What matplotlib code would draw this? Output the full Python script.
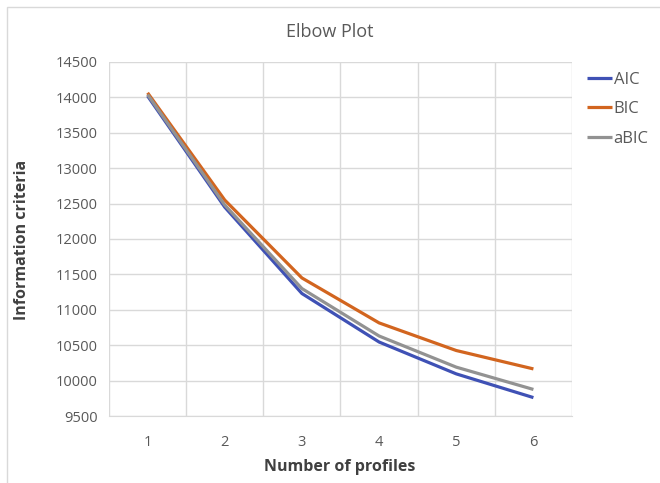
import matplotlib.pyplot as plt
from matplotlib.patches import Rectangle

profiles = [1, 2, 3, 4, 5, 6]
aic = [14020, 12450, 11230, 10545, 10095, 9760]
bic = [14065, 12550, 11450, 10815, 10425, 10165]
abic = [14040, 12480, 11300, 10630, 10190, 9875]
yticks = [9500, 10000, 10500, 11000, 11500, 12000, 12500, 13000, 13500, 14000, 14500]

plt.rcParams['font.family'] = ['Open Sans', 'DejaVu Sans']
txt = '#595959'
grid = '#d9d9d9'

fig = plt.figure(figsize=(6.6, 4.83), dpi=100)
fig.patches.append(Rectangle((7 / 660, -0.1), 1.2, 1 - 7 / 483 + 0.1, transform=fig.transFigure,
                             fill=False, edgecolor=grid, lw=1))
ax = fig.add_axes([109 / 660, 1 - 416 / 483, 463 / 660, 354 / 483])

x = list(range(len(profiles)))
ax.plot(x, aic, color='#3F51B5', lw=2.3, label='AIC', solid_capstyle='butt')
ax.plot(x, bic, color='#D2651F', lw=2.3, label='BIC', solid_capstyle='butt')
ax.plot(x, abic, color='#929292', lw=2.3, label='aBIC', solid_capstyle='butt')

ax.set_xlim(-0.5, len(profiles) - 0.5)
ax.set_ylim(9500, 14500)
ax.set_yticks(yticks)
ax.set_yticklabels([str(v) for v in yticks])
ax.set_xticks(x)
ax.set_xticklabels([str(p) for p in profiles])
ax.set_xticks([i - 0.5 for i in range(len(profiles) + 1)], minor=True)
ax.grid(False)
ax.xaxis.grid(True, which='minor', color=grid, lw=1)
ax.yaxis.grid(True, which='major', color=grid, lw=1)
ax.set_axisbelow(True)
for s in ['top', 'right', 'left']:
    ax.spines[s].set_visible(False)
ax.spines['bottom'].set_color(grid)
ax.tick_params(axis='both', which='both', length=0, colors=txt, labelsize=10.5)
ax.tick_params(axis='x', pad=14)
ax.tick_params(axis='y', pad=8)

fig.text(0.5, 1 - 32 / 483, 'Elbow Plot', ha='center', va='center', fontsize=13, color=txt)
fig.text(22 / 660, 1 - 240 / 483, 'Information criteria', rotation=90, ha='center', va='center',
         fontsize=11.5, fontweight='bold', color='#404040')
fig.text(340 / 660, 1 - 467 / 483, 'Number of profiles', ha='center', va='center',
         fontsize=11.5, fontweight='bold', color='#404040')

fig.legend(loc='upper left', bbox_to_anchor=(572 / 660, 1 - 57 / 483), frameon=False,
           handlelength=1.5, handletextpad=0.1, labelspacing=0.8, fontsize=12, labelcolor=txt)

fig.savefig('out.png', dpi=100)
